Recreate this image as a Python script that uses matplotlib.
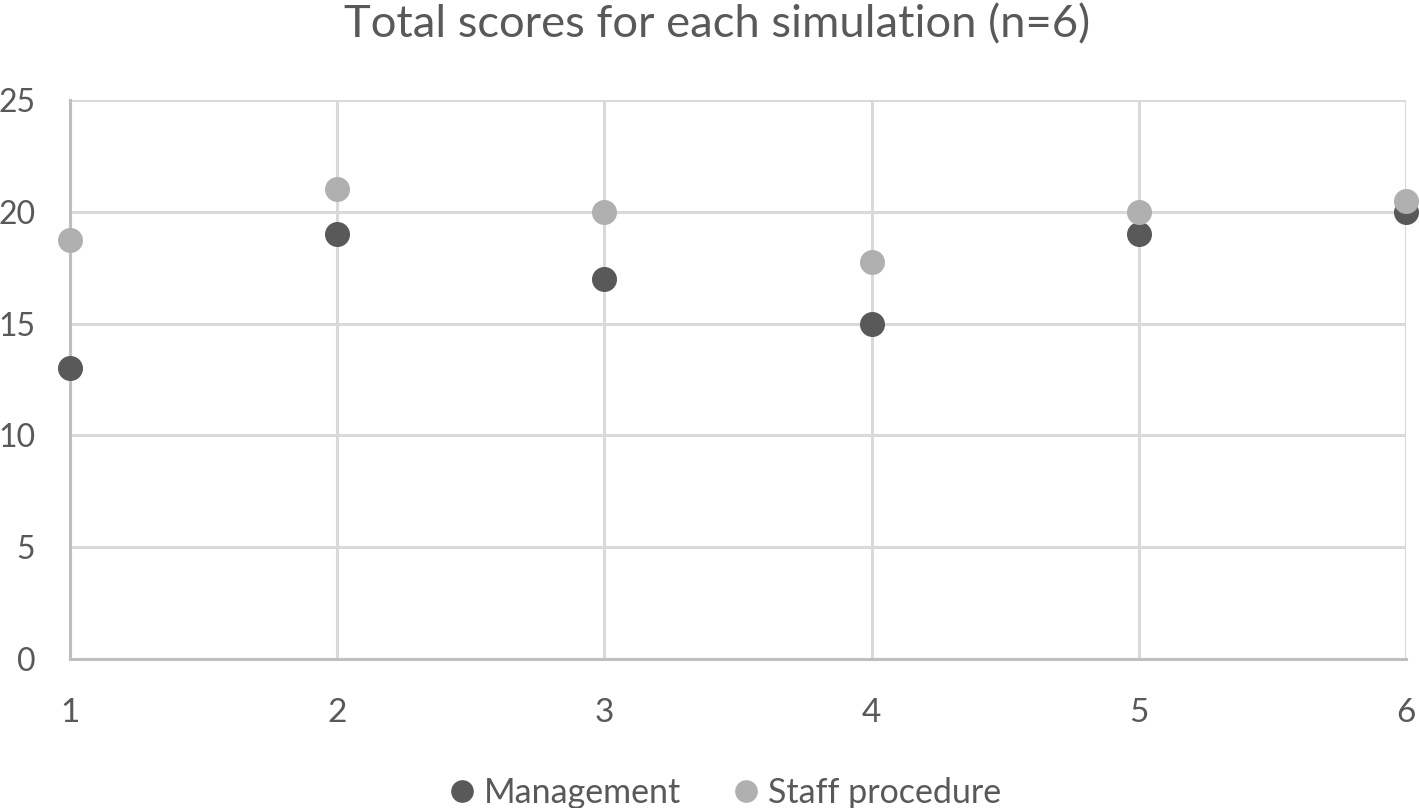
import numpy as np
import matplotlib.pyplot as plt

plt.rcParams['font.family'] = ['Lato', 'DejaVu Sans']

simulation = [1, 2, 3, 4, 5, 6]
management = [13, 19, 17, 15, 19, 20]
staff_procedure = [18.75, 21, 20, 17.75, 20, 20.5]

fig = plt.figure(figsize=(14.19, 8.08), dpi=100)
ax = fig.add_axes([70/1419, 1 - 659/808, (1406-70)/1419, (659-100)/808])

ax.plot(simulation, management, 'o', color='#595959', ms=17, label='Management', zorder=3, clip_on=False)
ax.plot(simulation, staff_procedure, 'o', color='#b0b0b0', ms=17, label='Staff procedure', zorder=3, clip_on=False)

ax.set_xlim(1, 6)
ax.set_ylim(0, 25)
ax.set_xticks(simulation)
ax.set_yticks([0, 5, 10, 15, 20, 25])
ax.grid(True, color='#d9d9d9', lw=2.2)
ax.set_axisbelow(True)
for s in ['top', 'right']:
    ax.spines[s].set_visible(False)
for s in ['left', 'bottom']:
    ax.spines[s].set_color('#bfbfbf')
    ax.spines[s].set_linewidth(2.2)
ax.tick_params(length=0, labelsize=24, colors='#595959')
ax.tick_params(axis='y', pad=25, labelsize=23)
ax.tick_params(axis='x', pad=28)

fig.suptitle('Total scores for each simulation (n=6)', x=0.505, y=0.995, va='top',
             fontsize=32.7, color='#595959')
ax.legend(loc='upper center', bbox_to_anchor=(0.489, -0.186), ncol=2, frameon=False,
          fontsize=24.5, labelcolor='#595959', handlelength=1.0, handletextpad=0.15,
          columnspacing=1.4, markerscale=0.9, borderaxespad=0)

fig.savefig('out.png', dpi=100)
